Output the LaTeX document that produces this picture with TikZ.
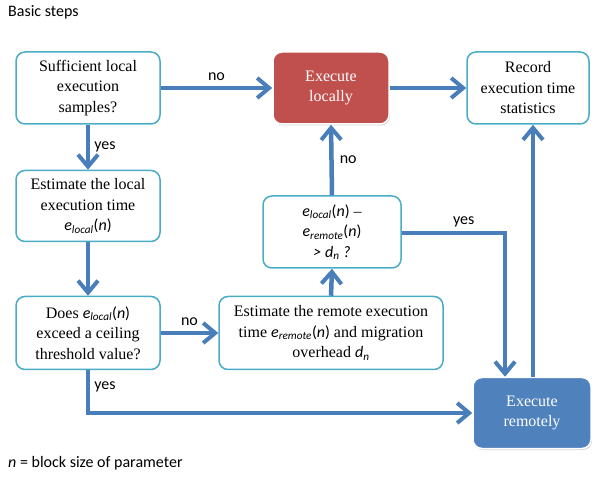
\documentclass[tikz,border=0pt]{standalone}
\usepackage{fontspec}
\setmainfont{Liberation Serif}
\newfontfamily\calfont{Carlito}
\usetikzlibrary{arrows.meta,shadows}
\definecolor{arrowblue}{HTML}{4A7EBB}
\definecolor{boxline}{HTML}{4BACC6}
\definecolor{redfill}{HTML}{C0504D}
\definecolor{bluefill}{HTML}{4F81BD}
\newcommand{\ee}[1]{{\calfont\textit{e}\textsubscript{\textit{#1}}(\textit{n})}}
\newcommand{\dn}{{\calfont\textit{d}\textsubscript{\textit{n}}}}
\begin{document}
\begin{tikzpicture}[x=1pt,y=-1pt,
  stepbox/.style={draw=boxline,line width=1.5pt,rounded corners=9pt,fill=white,
    align=center,inner sep=0pt,font=\fontsize{16}{20.5}\selectfont},
  redbox/.style={stepbox,draw=white,fill=redfill,text=white,
    drop shadow={opacity=0.35,shadow xshift=1pt,shadow yshift=-1.5pt}},
  bluebox/.style={stepbox,draw=white,fill=bluefill,text=white,
    drop shadow={opacity=0.35,shadow xshift=1pt,shadow yshift=-1.5pt}},
  conn/.style={draw=arrowblue,line width=4.5pt,
    -{Straight Barb[length=12pt,width=20pt,line width=4pt]}},
  lbl/.style={font=\calfont\fontsize{16}{18}\selectfont,inner sep=1pt},
  note/.style={font=\calfont\fontsize{16}{18}\selectfont,anchor=west,inner sep=0pt}]
\useasboundingbox (0,0) rectangle (592,478);
\node[note] (title) at (8,12) {Basic steps};
\node[note] (foot) at (8,463) {\textit{n} = block size of parameter};

\node[stepbox,minimum width=144pt,minimum height=72pt] (s1) at (88,88)
  {Sufficient local\\execution\\samples?};
\node[redbox,minimum width=116pt,minimum height=72pt] (el) at (331,88)
  {Execute\\locally};
\node[stepbox,minimum width=122pt,minimum height=72pt] (rec) at (528,88)
  {Record\\execution time\\statistics};
\node[stepbox,minimum width=144pt,minimum height=71pt] (s2) at (88,206)
  {Estimate the local\\execution time\\\ee{local}};
\node[stepbox,minimum width=144pt,minimum height=73pt] (s3) at (88,333)
  {Does \ee{local}\\exceed a ceiling\\threshold value?};
\node[stepbox,minimum width=224pt,minimum height=73pt] (er) at (331,333)
  {Estimate the remote execution\\time \ee{remote} and migration\\overhead \dn};
\node[stepbox,minimum width=138pt,minimum height=72pt] (cond) at (332,232)
  {\ee{local} --\\\ee{remote}\\{\calfont\textit{> }}\dn{\calfont\textit{ ?}}};
\node[bluebox,minimum width=118pt,minimum height=71pt] (rem) at (532,413)
  {Execute\\remotely};

\draw[conn] (s1.east) -- node[lbl,above=4pt] {no} (el.west);
\draw[conn] (el.east) -- (rec.west);
\draw[conn] (s1.south) -- node[lbl,right=3pt] {yes} (s2.north);
\draw[conn] (s2.south) -- (s3.north);
\draw[conn] (s3.east) -- node[lbl,above=4pt] {no} (er.west);
\draw[conn] (er.north) -- (cond.south);
\draw[conn] (cond.north) -- node[lbl,right=5pt] {no} (el.south);
\coordinate (yr) at ([xshift=-27pt]rem.north);
\draw[conn] ([yshift=-1pt]cond.east) -| node[lbl,pos=0.3,above=3pt] {yes} (yr);
\coordinate (rr) at ([xshift=1pt]rem.north);
\draw[conn] (rr) -- (rr |- rec.south);
\draw[conn] (s3.south) |- node[lbl,pos=0.2,right=3pt] {yes} (rem.west);
\end{tikzpicture}
\end{document}
